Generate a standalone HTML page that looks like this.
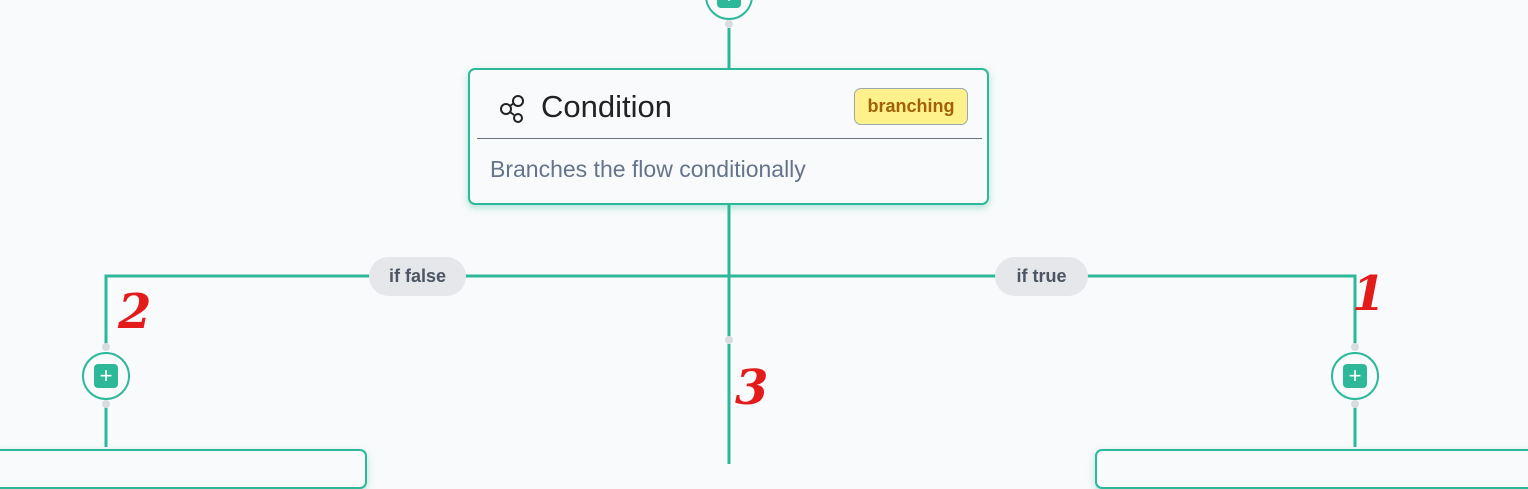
<!DOCTYPE html>
<html><head><meta charset="utf-8"><style>
body{margin:0;width:1528px;height:464px;overflow:hidden;background:#f9fafb;font-family:"Liberation Sans","DejaVu Sans",sans-serif;position:relative}
.abs{position:absolute}
.card{position:absolute;background:#f8fafc;border:2px solid #2db89a;border-radius:7px;box-sizing:border-box;box-shadow:0 3px 8px rgba(45,184,154,.35)}
.pill{position:absolute;background:#e5e7eb;border-radius:20px;color:#4b5563;font-size:18px;font-weight:bold;text-align:center;line-height:39px;height:39px}
.plus{position:absolute;width:48px;height:48px;border:2.5px solid #2db89a;border-radius:50%;box-sizing:border-box;background:#f9fafb}
.plus div{position:absolute;left:10px;top:10px;width:24px;height:24px;background:#2db89a;border-radius:4px;color:#fff;font-size:22px;line-height:23px;text-align:center}
.red{position:absolute;color:#e31b1b;font-weight:bold;font-style:italic;font-family:"DejaVu Serif",serif;font-size:48px}
</style></head><body>
<svg class="abs" style="left:0;top:0" width="1528" height="464">
<g stroke="#2db89a" stroke-width="3" fill="none">
<line x1="729" y1="28" x2="729" y2="68"/>
<line x1="729" y1="205" x2="729" y2="338"/>
<line x1="729" y1="344" x2="729" y2="464"/>
<polyline points="106,345 106,276 1355,276 1355,345"/>
<line x1="106" y1="406" x2="106" y2="447"/>
<line x1="1355" y1="406" x2="1355" y2="447"/>
</g>
<g fill="#d9dcdf"><circle cx="729" cy="340" r="4"/><circle cx="106" cy="347" r="4"/><circle cx="106" cy="404" r="4"/><circle cx="1355" cy="347" r="4"/><circle cx="1355" cy="404" r="4"/><circle cx="729" cy="24" r="4"/></g>
</svg>
<div class="plus" style="left:705px;top:-28px"><div>+</div></div>
<div class="card" style="left:468px;top:68px;width:521px;height:137px">
<svg class="abs" style="left:28px;top:24px" width="30" height="30"><g fill="none" stroke="#222" stroke-width="2"><circle cx="20" cy="7" r="5"/><circle cx="8" cy="15" r="5"/><circle cx="20" cy="24" r="4"/><line x1="12" y1="12" x2="16" y2="9"/><line x1="12" y1="18" x2="16" y2="21"/></g></svg>
<div class="abs" style="left:71px;top:19px;font-size:31px;color:#222">Condition</div>
<div class="abs" style="left:384px;top:18px;width:114px;height:37px;box-sizing:border-box;background:#fef08a;border:1.5px solid #9aa8b3;border-radius:7px;color:#a16207;font-size:18px;font-weight:bold;text-align:center;line-height:34px">branching</div>
<div class="abs" style="left:7px;top:68px;width:505px;height:1px;background:#6b7280"></div>
<div class="abs" style="left:20px;top:86px;font-size:23px;color:#64748b">Branches the flow conditionally</div>
</div>
<div class="pill" style="left:369px;top:257px;width:97px">if false</div>
<div class="pill" style="left:995px;top:257px;width:93px">if true</div>
<div class="plus" style="left:82px;top:352px"><div>+</div></div>
<div class="plus" style="left:1331px;top:352px"><div>+</div></div>
<div class="card" style="left:-10px;top:449px;width:377px;height:40px"></div>
<div class="card" style="left:1095px;top:449px;width:450px;height:40px"></div>
<div class="red" style="left:118px;top:284px">2</div>
<div class="red" style="left:1352px;top:266px">1</div>
<div class="red" style="left:735px;top:360px">3</div>
</body></html>
